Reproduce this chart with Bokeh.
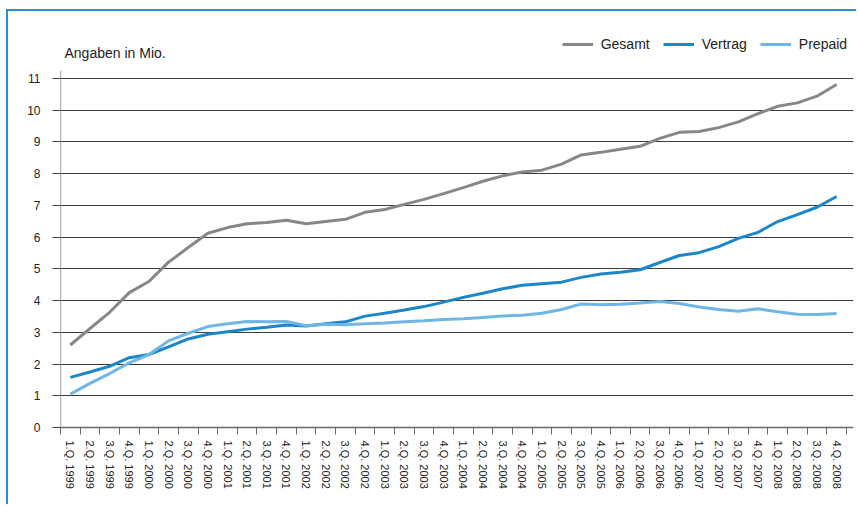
from bokeh.plotting import figure
from bokeh.models import FixedTicker, Range1d, Legend, LegendItem, Label, ColumnDataSource
from bokeh.embed import file_html
from bokeh.resources import INLINE

quarters = [
    "1.Q. 1999", "2.Q. 1999", "3.Q. 1999", "4.Q. 1999",
    "1.Q. 2000", "2.Q. 2000", "3.Q. 2000", "4.Q. 2000",
    "1.Q. 2001", "2.Q. 2001", "3.Q. 2001", "4.Q. 2001",
    "1.Q. 2002", "2.Q. 2002", "3.Q. 2002", "4.Q. 2002",
    "1.Q. 2003", "2.Q. 2003", "3.Q. 2003", "4.Q. 2003",
    "1.Q. 2004", "2.Q. 2004", "3.Q. 2004", "4.Q. 2004",
    "1.Q. 2005", "2.Q. 2005", "3.Q. 2005", "4.Q. 2005",
    "1.Q. 2006", "2.Q. 2006", "3.Q. 2006", "4.Q. 2006",
    "1.Q. 2007", "2.Q. 2007", "3.Q. 2007", "4.Q. 2007",
    "1.Q. 2008", "2.Q. 2008", "3.Q. 2008", "4.Q. 2008",
]

gesamt = [
    2.60, 3.12, 3.63, 4.25, 4.60, 5.21, 5.67, 6.12,
    6.30, 6.42, 6.46, 6.53, 6.42, 6.49, 6.56, 6.78,
    6.87, 7.03, 7.19, 7.37, 7.56, 7.76, 7.93, 8.05,
    8.11, 8.30, 8.59, 8.67, 8.77, 8.86, 9.11, 9.30,
    9.33, 9.45, 9.63, 9.89, 10.12, 10.23, 10.44, 10.81,
]
vertrag = [
    1.58, 1.75, 1.93, 2.20, 2.30, 2.54, 2.79, 2.94,
    3.02, 3.10, 3.16, 3.23, 3.20, 3.27, 3.33, 3.51,
    3.60, 3.70, 3.81, 3.95, 4.10, 4.23, 4.37, 4.48,
    4.53, 4.58, 4.73, 4.84, 4.89, 4.97, 5.20, 5.42,
    5.51, 5.70, 5.96, 6.15, 6.49, 6.71, 6.94, 7.28,
]
prepaid = [
    1.05, 1.39, 1.70, 2.04, 2.30, 2.73, 2.97, 3.18,
    3.27, 3.34, 3.33, 3.34, 3.21, 3.25, 3.24, 3.27,
    3.29, 3.33, 3.36, 3.40, 3.43, 3.47, 3.51, 3.54,
    3.60, 3.72, 3.89, 3.87, 3.88, 3.92, 3.97, 3.91,
    3.80, 3.72, 3.66, 3.74, 3.65, 3.57, 3.56, 3.59,
]
y_ticks = [0, 1, 2, 3, 4, 5, 6, 7, 8, 9, 10, 11]

FONT = "Liberation Sans"
BLUE_FRAME = "#2a8dd4"
C_GESAMT = "#878787"
C_VERTRAG = "#1b86c9"
C_PREPAID = "#6fb5e5"
AXIS_C = "#6a6a6a"
AXIS_TOP = 11.25

n = len(quarters)
xs = [i + 0.5 for i in range(n)]
src = ColumnDataSource(dict(x=xs, gesamt=gesamt, vertrag=vertrag, prepaid=prepaid))

p = figure(
    width=850, height=495,
    x_range=Range1d(0, 40.36), y_range=Range1d(0, 12.51),
    output_backend="svg", toolbar_location=None,
    min_border_left=52, min_border_right=5, min_border_top=19, min_border_bottom=79,
    styles={
        "border-top": f"2px solid {BLUE_FRAME}",
        "border-left": f"2px solid {BLUE_FRAME}",
        "margin-left": "6px",
        "margin-top": "9px",
    },
)
p.outline_line_color = None
p.background_fill_color = "white"
p.border_fill_color = "white"

# grid
p.xgrid.grid_line_color = None
p.ygrid.ticker = FixedTicker(ticks=y_ticks)
p.ygrid.grid_line_color = "#3c3c3c"
p.ygrid.grid_line_width = 1

# y axis
ya = p.yaxis[0]
ya.ticker = FixedTicker(ticks=y_ticks)
ya.axis_line_color = None
ya.major_tick_line_color = "#3c3c3c"
ya.major_tick_out = 8
ya.major_tick_in = 0
ya.minor_tick_line_color = None
ya.major_label_standoff = 12
ya.major_label_text_font = FONT
ya.major_label_text_font_size = "12px"
ya.major_label_text_color = "#222222"
p.segment(x0=[0], y0=[0], x1=[0], y1=[AXIS_TOP], line_color=AXIS_C, line_width=1.3)

# x axis
xa = p.xaxis[0]
xa.ticker = FixedTicker(ticks=xs, minor_ticks=list(range(n + 1)))
xa.major_label_overrides = {x: q for x, q in zip(xs, quarters)}
xa.major_label_orientation = "vertical"
xa.major_tick_line_color = None
xa.major_tick_out = 0
xa.major_tick_in = 0
xa.minor_tick_line_color = AXIS_C
xa.minor_tick_out = 7
xa.minor_tick_in = 0
xa.axis_line_color = AXIS_C
xa.axis_line_width = 1.3
xa.major_label_standoff = 6
xa.major_label_text_font = FONT
xa.major_label_text_font_size = "11px"
xa.major_label_text_color = "#222222"

r1 = p.line("x", "gesamt", source=src, line_color=C_GESAMT, line_width=3)
r2 = p.line("x", "vertrag", source=src, line_color=C_VERTRAG, line_width=3)
r3 = p.line("x", "prepaid", source=src, line_color=C_PREPAID, line_width=3)

title = Label(
    x=4, y=374.7, x_units="screen", y_units="screen",
    text="Angaben in Mio.", text_font=FONT, text_font_size="14px",
    text_color="#222222", text_baseline="alphabetic",
)
p.add_layout(title)

legend = Legend(
    items=[
        LegendItem(label="Gesamt", renderers=[r1]),
        LegendItem(label="Vertrag", renderers=[r2]),
        LegendItem(label="Prepaid", renderers=[r3]),
    ],
    orientation="horizontal",
    location=(501.7, 372.7),
    glyph_width=31, glyph_height=20, label_height=20,
    label_standoff=8, spacing=13, padding=0, margin=0,
    border_line_color=None, background_fill_alpha=0,
    label_text_font=FONT, label_text_font_size="14px",
    label_text_color="#222222",
)
p.add_layout(legend)

open("out.html", "w").write(file_html(p, INLINE))
